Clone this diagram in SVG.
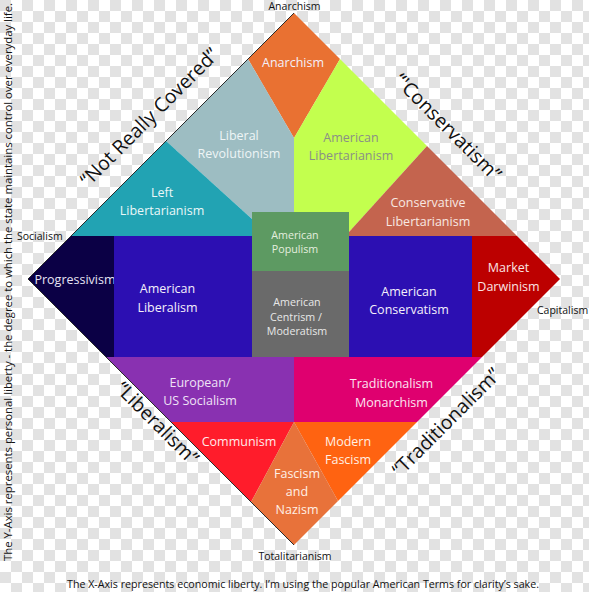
<svg xmlns="http://www.w3.org/2000/svg" width="589" height="592" viewBox="0 0 589 592">
<defs>
<pattern id="checker" x="0" y="0" width="22" height="22" patternUnits="userSpaceOnUse">
<rect width="22" height="22" fill="#ffffff"/>
<rect x="0" y="0" width="11" height="11" fill="#e2e2e2"/>
<rect x="11" y="11" width="11" height="11" fill="#e2e2e2"/>
</pattern>
<style>
text{font-family:"Open Sans","Noto Sans","Liberation Sans",sans-serif;}
.lbl{font-size:12.5px;text-anchor:middle;fill:#f4f0fa;}
.sm{font-size:10.7px;text-anchor:middle;}
.ax{font-size:10.5px;fill:#111;}
.big{font-size:19.5px;fill:#111;text-anchor:middle;}
.edge{stroke:#2a2a2a;stroke-width:1;fill:none;}
</style>
</defs>
<rect width="589" height="592" fill="url(#checker)"/>

<g id="anarchism">
<polygon points="294,13 340,59 294,138 248,59" fill="#E97132"/>
<text class="lbl" x="293" y="67" fill="#fff0e6">Anarchism</text>
</g>
<g id="liberal-revolutionism">
<polygon points="248,59 294,138 294,212 252,212 252,219 166,141" fill="#9DBDC2"/>
<text class="lbl" x="239" y="140" style="fill:#eef5f6">Liberal</text>
<text class="lbl" x="239" y="158" style="fill:#eef5f6">Revolutionism</text>
</g>
<g id="american-libertarianism">
<polygon points="340,59 427,146 349,232 349,212 294,212 294,138" fill="#C3FF4E"/>
<text class="lbl" x="351" y="142" style="fill:#8a8f86">American</text>
<text class="lbl" x="351" y="160" style="fill:#8a8f86">Libertarianism</text>
</g>
<g id="left-libertarianism">
<polygon points="166,141 252,219 252,236 71,236" fill="#22A3B3"/>
<text class="lbl" x="162" y="197" style="fill:#eaf7f8">Left</text>
<text class="lbl" x="162" y="215" style="fill:#eaf7f8">Libertarianism</text>
</g>
<g id="conservative-libertarianism">
<polygon points="427,146 517,236 349,236 349,232" fill="#C4644E"/>
<text class="lbl" x="428" y="207" style="fill:#f8e8e2">Conservative</text>
<text class="lbl" x="428" y="226" style="fill:#f8e8e2">Libertarianism</text>
</g>
<g id="progressivism">
<polygon points="71,236 114,236 114,357 106,357 28,279" fill="#0B0045"/>
<text class="lbl" x="75" y="284" style="fill:#e6e4f4">Progressivism</text>
</g>
<g id="american-liberalism">
<rect x="114" y="236" width="138" height="121" fill="#2C0FB2"/>
<text class="lbl" x="167.5" y="293">American</text>
<text class="lbl" x="167.5" y="312">Liberalism</text>
</g>
<g id="american-populism">
<rect x="252" y="212" width="97" height="59" fill="#5D9A62"/>
<text class="sm" x="295" y="239" fill="#e4eedf">American</text>
<text class="sm" x="295" y="253" fill="#e4eedf">Populism</text>
</g>
<g id="american-centrism">
<rect x="252" y="271" width="97" height="86" fill="#6A6A6A"/>
<text class="sm" x="297" y="306" fill="#e8e8e8">American</text>
<text class="sm" x="296" y="320.5" fill="#e8e8e8">Centrism /</text>
<text class="sm" x="297" y="335" fill="#e8e8e8">Moderatism</text>
</g>
<g id="american-conservatism">
<rect x="349" y="236" width="123" height="121" fill="#2C0FB2"/>
<text class="lbl" x="409" y="296">American</text>
<text class="lbl" x="409" y="314">Conservatism</text>
</g>
<g id="market-darwinism">
<polygon points="472,236 517,236 560,279 482,357 472,357" fill="#BC0000"/>
<text class="lbl" x="508.5" y="272" style="fill:#fae4e4">Market</text>
<text class="lbl" x="508.5" y="291" style="fill:#fae4e4">Darwinism</text>
</g>
<g id="european-us-socialism">
<polygon points="106,357 294,357 294,422 171,422" fill="#8931B1"/>
<text class="lbl" x="200" y="387" style="fill:#efe2f6">European/</text>
<text class="lbl" x="200" y="405" style="fill:#efe2f6">US Socialism</text>
</g>
<g id="traditionalism-monarchism">
<polygon points="294,357 482,357 417,422 294,422" fill="#DF006F"/>
<text class="lbl" x="391.5" y="388" style="fill:#fce4f0">Traditionalism</text>
<text class="lbl" x="391.5" y="407" style="fill:#fce4f0">Monarchism</text>
</g>
<g id="communism">
<polygon points="171,422 294,422 251,502" fill="#FF1C2B"/>
<text class="lbl" x="239" y="446" style="fill:#ffeaea">Communism</text>
</g>
<g id="modern-fascism">
<polygon points="294,422 417,422 338,501" fill="#FF6311"/>
<text class="lbl" x="348" y="446" style="fill:#fff0e4">Modern</text>
<text class="lbl" x="348" y="463.5" style="fill:#fff0e4">Fascism</text>
</g>
<g id="fascism-nazism">
<polygon points="294,422 338,501 294,545 251,502" fill="#E8723A"/>
<text class="lbl" x="297" y="478" style="fill:#fff0e6">Fascism</text>
<text class="lbl" x="297" y="496" style="fill:#fff0e6">and</text>
<text class="lbl" x="297" y="514" style="fill:#fff0e6">Nazism</text>
</g>

<g id="connectors">
<polyline class="edge" points="294,13 28,279 294,545"/>
</g>

<g id="quadrant-labels">
<text class="big" transform="translate(154,122) rotate(-45)">“Not Really Covered”</text>
<text class="big" transform="translate(443,132) rotate(45)">“'Conservatism”</text>
<text class="big" transform="translate(152.5,428) rotate(45)">“Liberalism”</text>
<text class="big" transform="translate(451,427) rotate(-45)">“Traditionalism”</text>
</g>

<g id="axis-labels">
<text class="ax" x="294.5" y="10" text-anchor="middle">Anarchism</text>
<text class="ax" x="17" y="239.5">Socialism</text>
<text class="ax" x="537" y="313.5">Capitalism</text>
<text class="ax" x="295" y="560" text-anchor="middle">Totalitarianism</text>
<text class="ax" x="303" y="588" text-anchor="middle" font-size="11" textLength="472" lengthAdjust="spacingAndGlyphs">The X-Axis represents economic liberty.  I’m using the popular American Terms for clarity’s sake.</text>
<text class="ax" transform="translate(12,282) rotate(-90)" text-anchor="middle" font-size="11" textLength="558" lengthAdjust="spacingAndGlyphs">The Y-Axis represents personal liberty - the degree to which the state maintains control over everyday life.</text>
</g>
</svg>
